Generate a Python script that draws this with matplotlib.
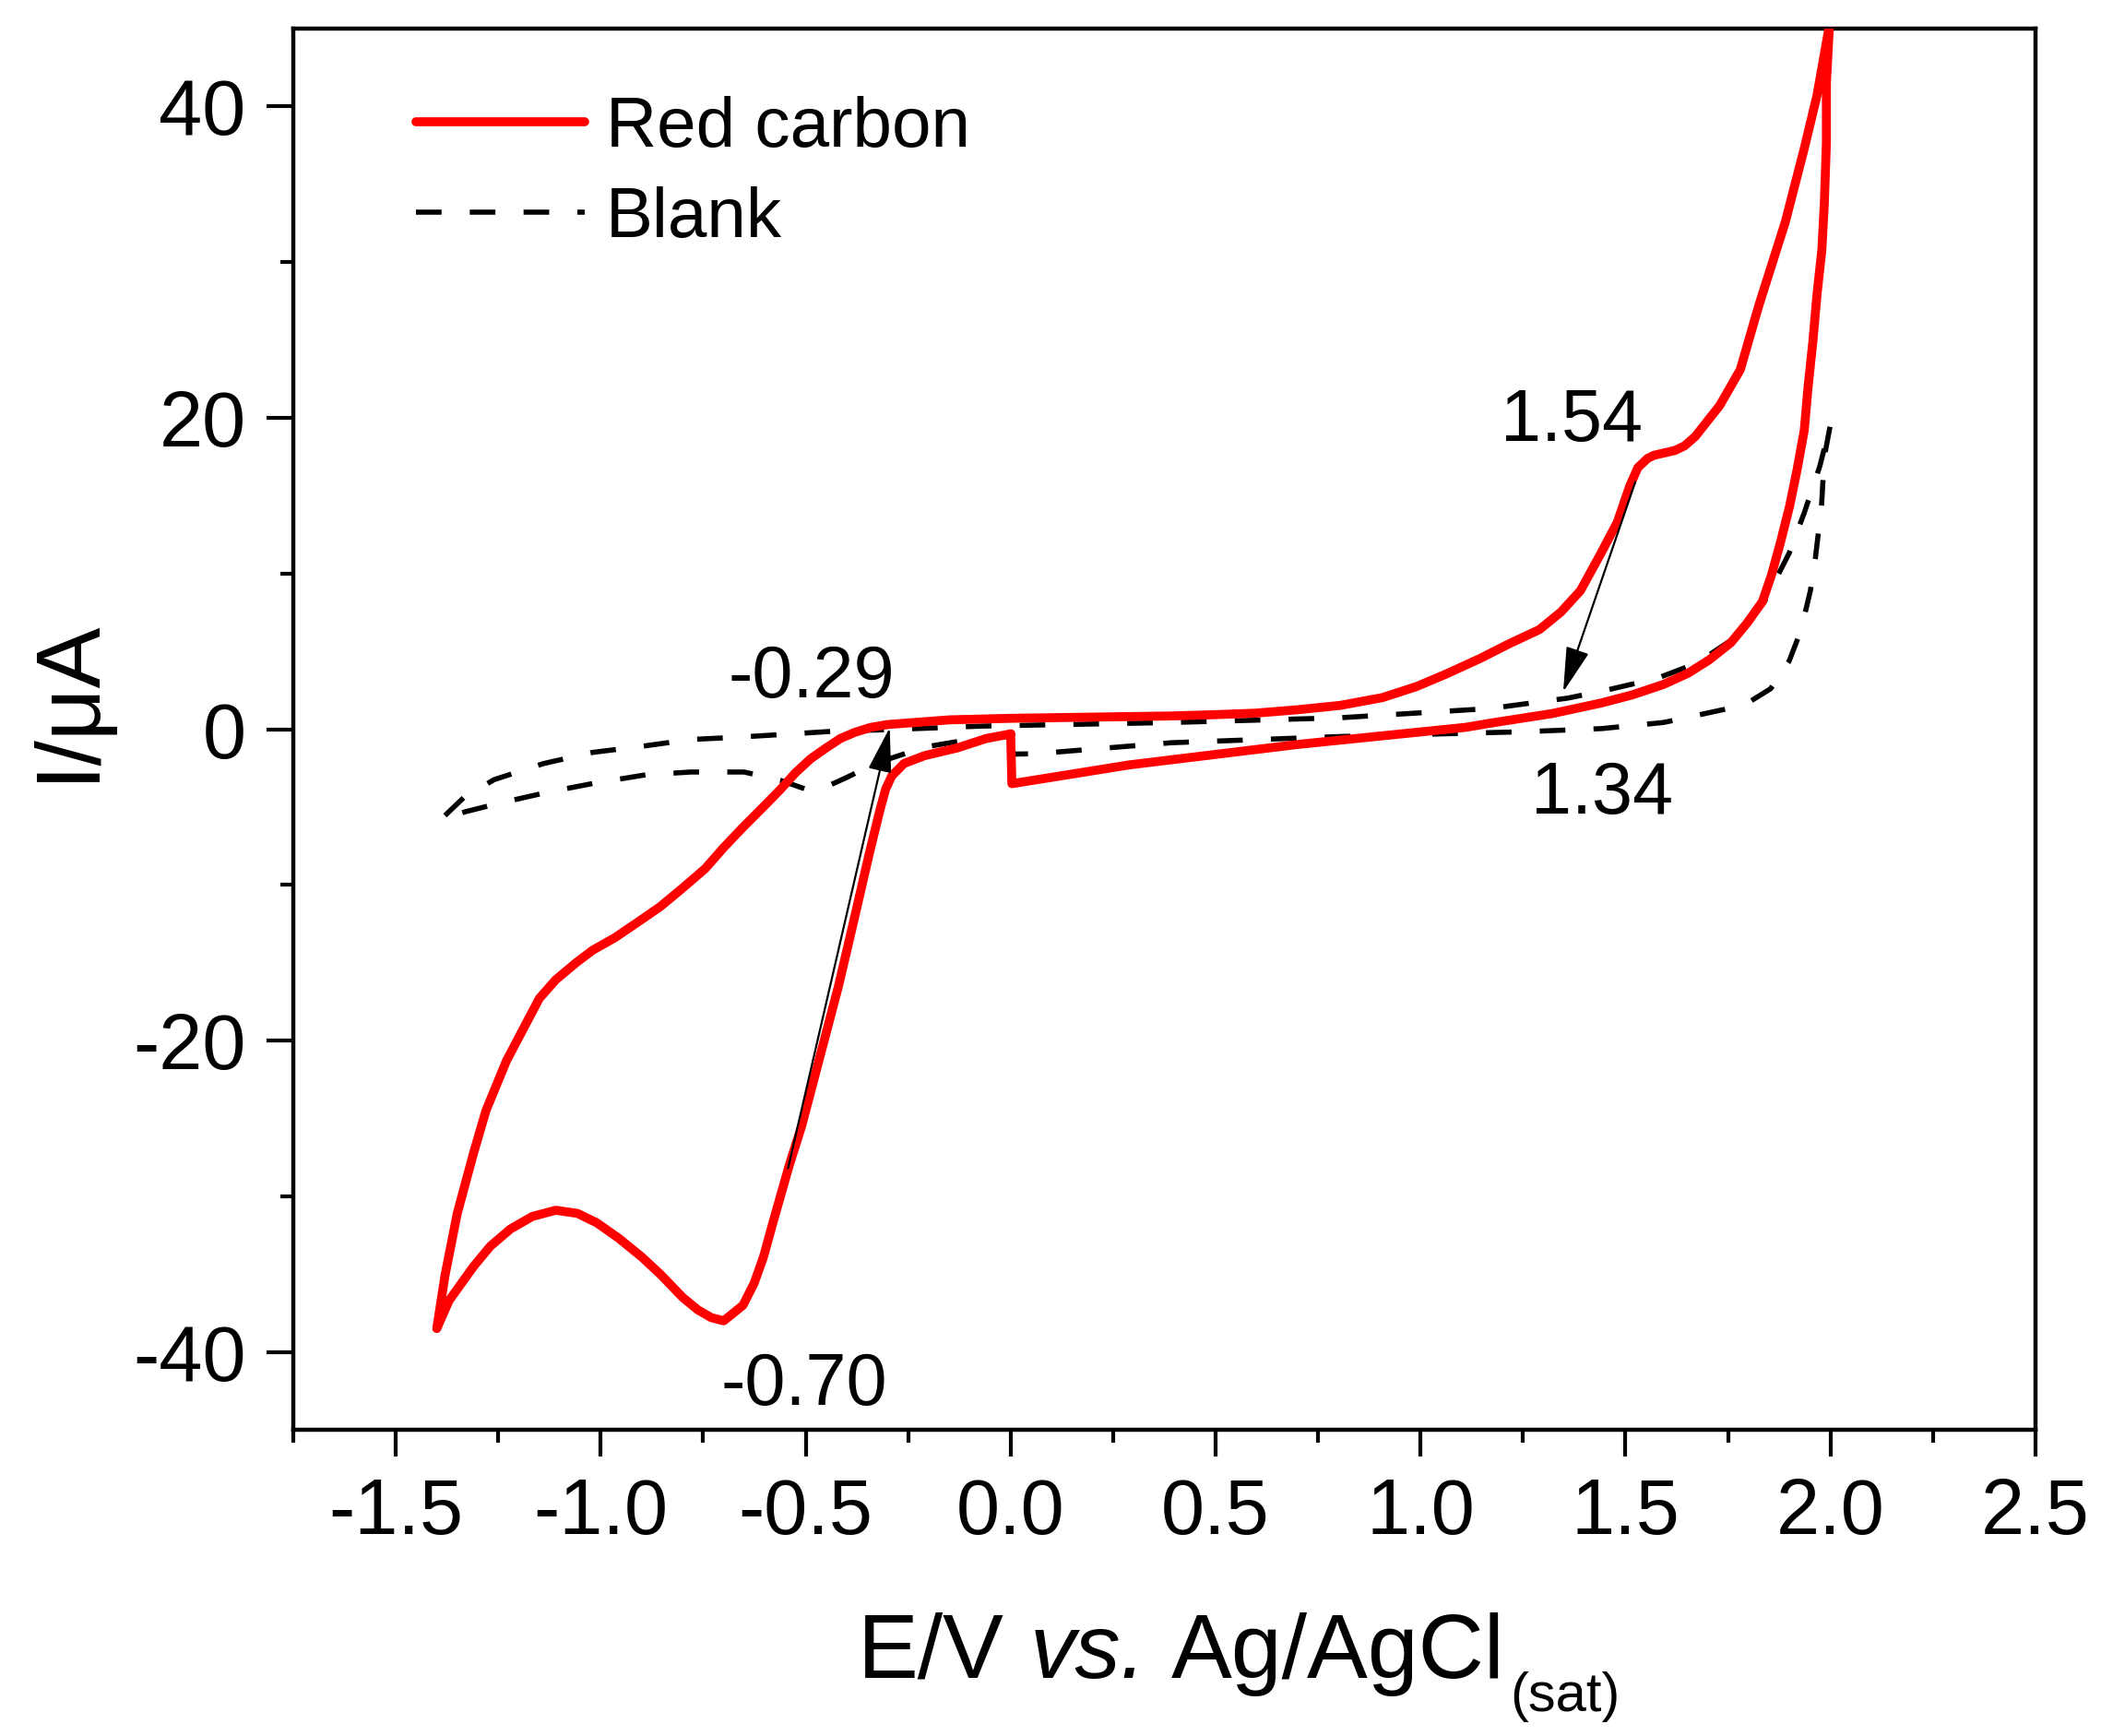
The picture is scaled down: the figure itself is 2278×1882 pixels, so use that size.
import numpy as np
import matplotlib
matplotlib.use("Agg")
import matplotlib.pyplot as plt
from matplotlib.ticker import MultipleLocator

# --- data: E (V) and I (uA) ---
# red carbon: start at 0 V, scan negative to -1.4 V, up to +2.0 V, back to 0 V
red_E = [0.0, -0.06, -0.13, -0.21, -0.26, -0.29, -0.305, -0.32, -0.345, -0.38,
         -0.42, -0.45, -0.48, -0.51, -0.54, -0.58, -0.603, -0.626, -0.653,
         -0.681, -0.70, -0.73, -0.763, -0.80, -0.855, -0.90, -0.956, -1.01,
         -1.057, -1.11, -1.167, -1.22, -1.269, -1.31, -1.37, -1.40,
         -1.38, -1.35, -1.31, -1.28, -1.23, -1.18, -1.15, -1.11, -1.06, -1.02,
         -0.966, -0.91, -0.855, -0.80, -0.745, -0.70, -0.653, -0.60, -0.561,
         -0.525, -0.488, -0.45, -0.415, -0.38, -0.341, -0.30, -0.15, 0.0,
         0.39, 0.494, 0.597, 0.70, 0.804, 0.907, 0.99, 1.062, 1.145, 1.217,
         1.29, 1.343, 1.39, 1.44, 1.48, 1.51, 1.53, 1.554, 1.57, 1.62, 1.644,
         1.67, 1.697, 1.73, 1.78, 1.825, 1.89, 1.936, 1.967, 1.996, 2.0,
         1.99, 1.99, 1.985, 1.979, 1.967, 1.957, 1.945, 1.936, 1.918, 1.90,
         1.877, 1.856, 1.834, 1.796, 1.757, 1.704, 1.652, 1.592, 1.517,
         1.442, 1.32, 1.18, 1.11, 0.70, 0.29, 0.003, 0.0]
red_I = [-0.3, -0.6, -1.2, -1.7, -2.2, -3.0, -3.85, -5.3, -8.0, -12.0,
         -16.5, -19.5, -22.5, -25.5, -28.0, -31.7, -33.9, -35.6, -37.0,
         -37.6, -38.0, -37.8, -37.3, -36.5, -35.0, -33.9, -32.7, -31.7,
         -31.1, -30.9, -31.3, -32.1, -33.2, -34.5, -36.7, -38.5,
         -35.1, -31.1, -27.2, -24.5, -21.3, -18.8, -17.3, -16.1, -15.0, -14.2,
         -13.4, -12.4, -11.4, -10.2, -8.95, -7.6, -6.3, -4.9, -3.85,
         -2.8, -1.9, -1.2, -0.59, -0.2, 0.12, 0.3, 0.6, 0.7,
         0.85, 0.93, 1.03, 1.25, 1.53, 2.03, 2.74, 3.54, 4.54, 5.5,
         6.4, 7.54, 8.9, 11.3, 13.3, 15.6, 16.8, 17.4, 17.6, 17.9, 18.2,
         18.8, 19.7, 20.8, 23.1, 27.2, 32.6, 37.3, 40.7, 45.0, 46.5,
         41.5, 37.7, 33.8, 30.8, 27.9, 24.9, 21.9, 19.2, 16.6, 14.3,
         11.9, 9.9, 8.2, 6.8, 5.56, 4.45, 3.59, 2.87, 2.21,
         1.69, 1.0, 0.43, 0.12, -0.98, -2.29, -3.5, -0.3]

# blank electrode
blank_E = [0.0, -0.10, -0.21, -0.33, -0.40, -0.45, -0.50, -0.56, -0.65, -0.78,
           -0.89, -1.01, -1.13, -1.25, -1.33, -1.39,
           -1.333, -1.26, -1.14, -1.02, -0.90, -0.78, -0.67, -0.546, -0.426,
           -0.31, -0.19, -0.07, 0.39, 0.80, 1.17, 1.36, 1.46, 1.576, 1.674,
           1.764, 1.839, 1.899, 1.936, 1.974, 2.0,
           1.985, 1.978, 1.963, 1.951, 1.928, 1.899, 1.854, 1.794, 1.742,
           1.629, 1.592, 1.442, 1.254, 0.804, 0.391, 0.06, 0.0, 0.0]
blank_I = [-0.45, -0.66, -1.15, -2.2, -3.1, -3.7, -3.85, -3.3, -2.75, -2.75,
           -2.93, -3.44, -4.05, -4.77, -5.3, -5.8,
           -4.36, -3.24, -2.21, -1.49, -1.1, -0.66, -0.52, -0.32, -0.12,
           -0.04, 0.08, 0.2, 0.43, 0.73, 1.33, 2.0, 2.55, 3.26, 4.24,
           5.83, 8.2, 11.3, 13.9, 16.9, 19.6,
           17.5, 14.3, 10.96, 8.9, 6.35, 4.37, 2.6, 1.62, 1.28,
           0.63, 0.43, 0.04, -0.16, -0.47, -0.87, -1.58, -1.6, -0.45]

series_labels = ["Red carbon", "Blank"]
peak_labels = ["-0.29", "-0.70", "1.54", "1.34"]

plt.rcParams["font.family"] = ["Liberation Sans", "DejaVu Sans"]
plt.rcParams["axes.unicode_minus"] = False

W, H = 2278, 1882
fig = plt.figure(figsize=(W / 100, H / 100), dpi=100)
ax = fig.add_axes([0.1396, 0.1764, 0.8292, 0.8071])

ax.plot(red_E, red_I, color="#ff0000", lw=7, solid_joinstyle="round",
        solid_capstyle="round", label=series_labels[0], zorder=3)
ax.plot(blank_E, blank_I, color="black", lw=4, dashes=(5, 5.5),
        label=series_labels[1], zorder=2)

ax.set_xlim(-1.75, 2.5)
ax.set_ylim(-45, 45)
ax.xaxis.set_major_locator(MultipleLocator(0.5))
ax.xaxis.set_minor_locator(MultipleLocator(0.25))
ax.yaxis.set_major_locator(MultipleLocator(20))
ax.yaxis.set_minor_locator(MultipleLocator(10))
ax.xaxis.set_major_formatter(plt.FuncFormatter(lambda v, p: f"{v:.1f}"))

for s in ax.spines.values():
    s.set_linewidth(3.2)
ax.tick_params(which="major", direction="out", length=21, width=3, labelsize=61, pad=16)
ax.tick_params(which="minor", direction="out", length=10, width=3)
ax.tick_params(top=False, right=False, which="both")

ax.set_ylabel("I/\u03bcA", fontsize=71)
ax.yaxis.set_label_coords(-0.105, 0.521)

# x label built from pieces: upright, italic "vs.", subscript "(sat)"
r = fig.canvas.get_renderer()
x = 930.0
base = H - 1819.0
space = 0.278 * 71 * 100 / 72
for txt, size, style, dy, gap in [("E/V", 71, "normal", 0, space),
                                  ("vs.", 71, "italic", 0, space),
                                  ("Ag/AgCl", 71, "normal", 0, 6),
                                  ("(sat)", 43, "normal", -36, 0)]:
    t = fig.text(x / W, (base + dy) / H, txt, fontsize=size, style=style,
                 ha="left", va="baseline")
    x = t.get_window_extent(renderer=r).x1 + gap

# peak annotations
arrow_kw = dict(arrowstyle="-|>,head_length=0.95,head_width=0.25", color="black",
                lw=1.6, mutation_scale=32, shrinkA=0, shrinkB=0)
ax.annotate("", xy=(-0.295, 0.1), xytext=(-0.543, -28.2), arrowprops=arrow_kw)
ax.annotate("", xy=(1.348, 2.4), xytext=(1.524, 15.9), arrowprops=arrow_kw)
ax.text(-0.486, 2.06, peak_labels[0], fontsize=57, ha="center", va="baseline")
ax.text(-0.504, -43.38, peak_labels[1], fontsize=57, ha="center", va="baseline")
ax.text(1.368, 18.49, peak_labels[2], fontsize=57, ha="center", va="baseline")
ax.text(1.442, -5.39, peak_labels[3], fontsize=57, ha="center", va="baseline")

ax.legend(loc="upper left", bbox_to_anchor=(0.0704, 0.952), frameon=False,
          fontsize=55, handlelength=2.4, handletextpad=0.3, labelspacing=0.35,
          borderpad=0, borderaxespad=0)

fig.savefig("out.png", dpi=100)
